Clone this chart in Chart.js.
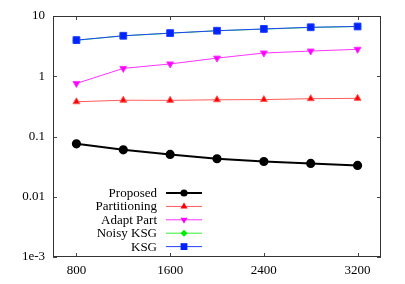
<!DOCTYPE html>
<html>
<head>
<meta charset="utf-8">
<script src="https://cdn.jsdelivr.net/npm/chart.js@4/dist/chart.umd.min.js"></script>
<style>
    html, body { margin: 0; padding: 0; background: #fff; }
    #wrap { width: 405px; height: 284px; }
</style>
</head>
<body>
<div id="wrap"><canvas id="miChart"></canvas></div>
<script>
// Data
const sampleSizes = [800, 1200, 1600, 2000, 2400, 2800, 3200];
const xTicks = [800, 1600, 2400, 3200];
const yTicks = [0.001, 0.01, 0.1, 1, 10];
const yTickLabels = ['1e-3', '0.01', '0.1', '1', '10'];

const proposed = [0.0757, 0.060, 0.0504, 0.0427, 0.0385, 0.0357, 0.0331];
const partitioning = [0.377, 0.40, 0.398, 0.407, 0.41, 0.424, 0.43];
const adaptPart = [0.76, 1.35, 1.6, 2.0, 2.43, 2.62, 2.8];
const noisyKsg = [3.95, 4.68, 5.18, 5.68, 6.05, 6.45, 6.7];
const ksg = [3.98, 4.7, 5.2, 5.7, 6.1, 6.5, 6.7];

const FONT = "'Liberation Serif', 'DejaVu Serif', serif";

function toPoints(values) {
    return sampleSizes.map((x, i) => ({ x: x, y: values[i] }));
}

// Inward tick marks on all four sides, gnuplot style
const tickMarks = {
    id: 'tickMarks',
    afterDraw(chart) {
        const ctx = chart.ctx;
        const a = chart.chartArea;
        const xs = chart.scales.x;
        const ys = chart.scales.y;
        ctx.save();
        ctx.strokeStyle = '#444';
        ctx.lineWidth = 1;
        ctx.beginPath();
        xTicks.forEach(v => {
            const px = Math.round(xs.getPixelForValue(v)) + 0.5;
            ctx.moveTo(px, a.bottom); ctx.lineTo(px, a.bottom - 4);
            ctx.moveTo(px, a.top); ctx.lineTo(px, a.top + 4);
        });
        yTicks.forEach(v => {
            const py = Math.round(ys.getPixelForValue(v)) + 0.5;
            ctx.moveTo(a.left, py); ctx.lineTo(a.left + 4, py);
            ctx.moveTo(a.right, py); ctx.lineTo(a.right - 4, py);
        });
        ctx.stroke();
        ctx.strokeStyle = '#333';
        ctx.strokeRect(a.left + 0.5, a.top + 0.5, a.right - a.left - 1, a.bottom - a.top - 1);
        ctx.restore();
    }
};

// Legend inside the plot: label right-aligned, then line sample with marker
const insideLegend = {
    id: 'insideLegend',
    afterDraw(chart) {
        const ctx = chart.ctx;
        const textRight = 157;
        const lineX0 = 166, lineX1 = 202;
        const rowY0 = 193, rowStep = 13.4;
        ctx.save();
        ctx.font = '13px ' + FONT;
        ctx.textAlign = 'right';
        ctx.textBaseline = 'middle';
        chart.data.datasets.forEach((ds, i) => {
            const y = rowY0 + i * rowStep;
            ctx.fillStyle = '#000';
            ctx.fillText(ds.label, textRight, y + 0.5);
            ctx.strokeStyle = ds.borderColor;
            ctx.lineWidth = ds.borderWidth;
            ctx.beginPath();
            ctx.moveTo(lineX0, y);
            ctx.lineTo(lineX1, y);
            ctx.stroke();
            ctx.fillStyle = ds.pointBackgroundColor;
            ctx.strokeStyle = ds.pointBackgroundColor;
            Chart.helpers.drawPoint(ctx, {
                pointStyle: ds.pointStyle,
                radius: ds.pointRadius,
                rotation: ds.pointRotation || 0,
                borderWidth: 0
            }, (lineX0 + lineX1) / 2, y);
        });
        ctx.restore();
    }
};

const ctx = document.getElementById('miChart').getContext('2d');
const miChart = new Chart(ctx, {
    type: 'line',
    data: {
        datasets: [
            {
                label: 'Proposed',
                data: toPoints(proposed),
                borderColor: '#000000',
                pointBackgroundColor: '#000000',
                borderWidth: 2,
                pointStyle: 'circle',
                pointRadius: 3.6,
                order: 0
            },
            {
                label: 'Partitioning',
                data: toPoints(partitioning),
                borderColor: '#ff5a5a',
                pointBackgroundColor: '#ff0000',
                borderWidth: 1,
                pointStyle: 'triangle',
                pointRadius: 4,
                order: 4
            },
            {
                label: 'Adapt Part',
                data: toPoints(adaptPart),
                borderColor: '#ff33ff',
                pointBackgroundColor: '#ff00ff',
                borderWidth: 1,
                pointStyle: 'triangle',
                pointRotation: 180,
                pointRadius: 4,
                order: 3
            },
            {
                label: 'Noisy KSG',
                data: toPoints(noisyKsg),
                borderColor: '#33ee33',
                pointBackgroundColor: '#00ee00',
                borderWidth: 1,
                pointStyle: 'rectRot',
                pointRadius: 3.5,
                order: 2
            },
            {
                label: 'KSG',
                data: toPoints(ksg),
                borderColor: '#2040ff',
                pointBackgroundColor: '#0022ff',
                borderWidth: 1,
                pointStyle: 'rect',
                pointRadius: 4.8,
                order: 1
            }
        ]
    },
    plugins: [tickMarks, insideLegend],
    options: {
        responsive: true,
        maintainAspectRatio: false,
        animation: false,
        layout: { padding: { left: 0, right: 24, top: 16, bottom: 0 } },
        elements: {
            line: { tension: 0 },
            point: { borderWidth: 0, hoverRadius: 4 }
        },
        plugins: {
            legend: { display: false },
            tooltip: { enabled: false }
        },
        scales: {
            x: {
                type: 'linear',
                min: 600,
                max: 3400,
                afterBuildTicks: scale => { scale.ticks = xTicks.map(v => ({ value: v })); },
                afterFit: scale => { scale.height = 27; },
                grid: { display: false, drawTicks: false },
                border: { display: false },
                ticks: {
                    color: '#000',
                    padding: 6,
                    maxRotation: 0,
                    font: { family: FONT, size: 13 },
                    callback: v => String(v)
                }
            },
            y: {
                type: 'logarithmic',
                min: 0.001,
                max: 10,
                afterBuildTicks: scale => { scale.ticks = yTicks.map(v => ({ value: v })); },
                afterFit: scale => { scale.width = 53; },
                grid: { display: false, drawTicks: false },
                border: { display: false },
                ticks: {
                    color: '#000',
                    padding: 8,
                    font: { family: FONT, size: 13 },
                    callback: (v) => {
                        const i = yTicks.findIndex(t => Math.abs(t - v) / t < 1e-6);
                        return i >= 0 ? yTickLabels[i] : '';
                    }
                }
            }
        }
    }
});
</script>
</body>
</html>
